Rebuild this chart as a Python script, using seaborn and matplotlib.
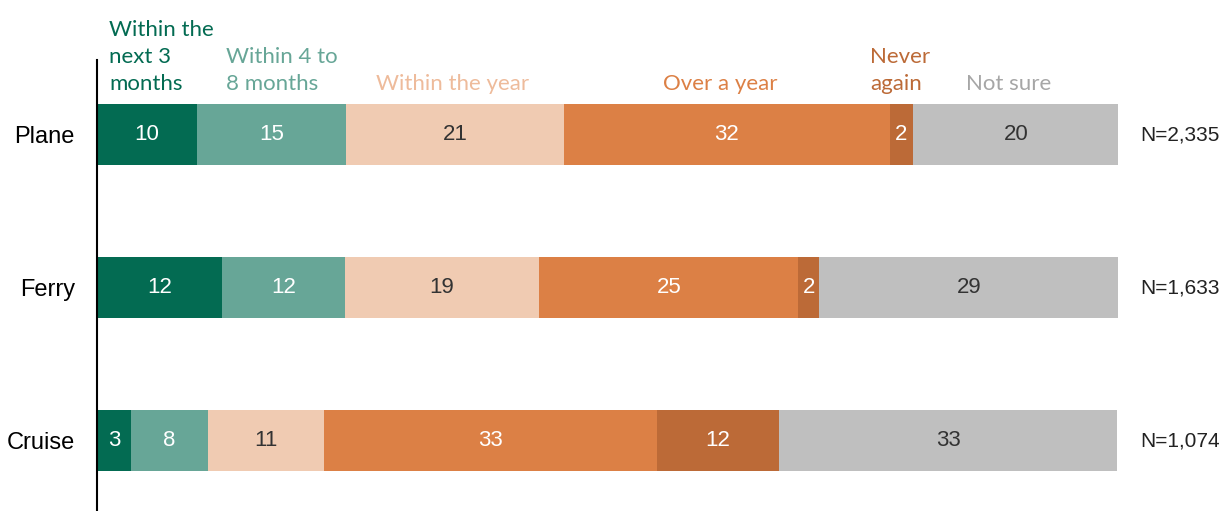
import matplotlib
matplotlib.use("Agg")
import matplotlib.pyplot as plt
import numpy as np
import pandas as pd
import seaborn as sns

# Survey data: when people expect to travel again, by mode (%)
modes = ["Plane", "Ferry", "Cruise"]
series = ["Within the\nnext 3\nmonths", "Within 4 to\n8 months", "Within the year",
          "Over a year", "Never\nagain", "Not sure"]
next_3_months = [9.8, 12.2, 3.3]
within_4_to_8 = [14.6, 12.1, 7.6]
within_year = [21.3, 19.0, 11.3]
over_a_year = [32.0, 25.4, 32.6]
never_again = [2.2, 2.0, 12.0]
not_sure = [20.2, 29.4, 33.1]
sample_sizes = ["N=2,335", "N=1,633", "N=1,074"]

colors = ["#036b52", "#67a697", "#f0cbb2", "#dc8045", "#bc6a37", "#bfbfbf"]
header_colors = ["#036b52", "#67a697", "#eebb9b", "#dc8045", "#bc6a37", "#a6a6a6"]
value_colors = ["white", "white", "#333333", "white", "white", "#333333"]

sns.set_theme(style="white")
plt.rcParams["font.family"] = ["Liberation Sans", "DejaVu Sans"]

values = np.array([next_3_months, within_4_to_8, within_year,
                   over_a_year, never_again, not_sure])
cum = np.cumsum(values, axis=0)

fig = plt.figure(figsize=(12.27, 5.11), dpi=100)
ax = fig.add_axes([97 / 1227, 0.0, 1021 / 1227, 1 - 60 / 511])

# Stacked bars: draw cumulative totals from the outermost segment inward
for i in range(len(series) - 1, -1, -1):
    df = pd.DataFrame({"mode": modes, "value": cum[i]})
    sns.barplot(data=df, x="value", y="mode", orient="h", color=colors[i],
                width=0.4, saturation=1, ax=ax, linewidth=0)

# Segment value labels
for i in range(len(series)):
    starts = cum[i] - values[i]
    for j in range(len(modes)):
        ax.text(starts[j] + values[i][j] / 2, j, f"{values[i][j]:.0f}",
                ha="center", va="center", fontsize=16, color=value_colors[i])

# Series headers above the first bar
header_offsets = [1.4, 1.0, -0.2, -0.7, -0.1, -0.7]
for i, name in enumerate(series):
    x = cum[i][0] - values[i][0] / 2 + header_offsets[i]
    ax.text(x, -0.265, name, ha="center", va="bottom", multialignment="left",
            fontsize=16, color=header_colors[i],
            family=["Lato", "DejaVu Sans"], linespacing=1.45)

# Sample sizes to the right of each bar
for j, n in enumerate(sample_sizes):
    ax.text(102.2, j, n, ha="left", va="center", fontsize=15, color="#222222",
            clip_on=False)

ax.set_xlim(0, 100)
ax.set_ylim(2.46, -0.49)
ax.set_xlabel("")
ax.set_ylabel("")
ax.set_xticks([])
ax.tick_params(axis="y", length=0, pad=16, labelsize=17, labelcolor="black")
for side in ["top", "right", "bottom"]:
    ax.spines[side].set_visible(False)
ax.spines["left"].set_color("black")
ax.spines["left"].set_linewidth(1.5)

fig.savefig("out.png", dpi=100)
